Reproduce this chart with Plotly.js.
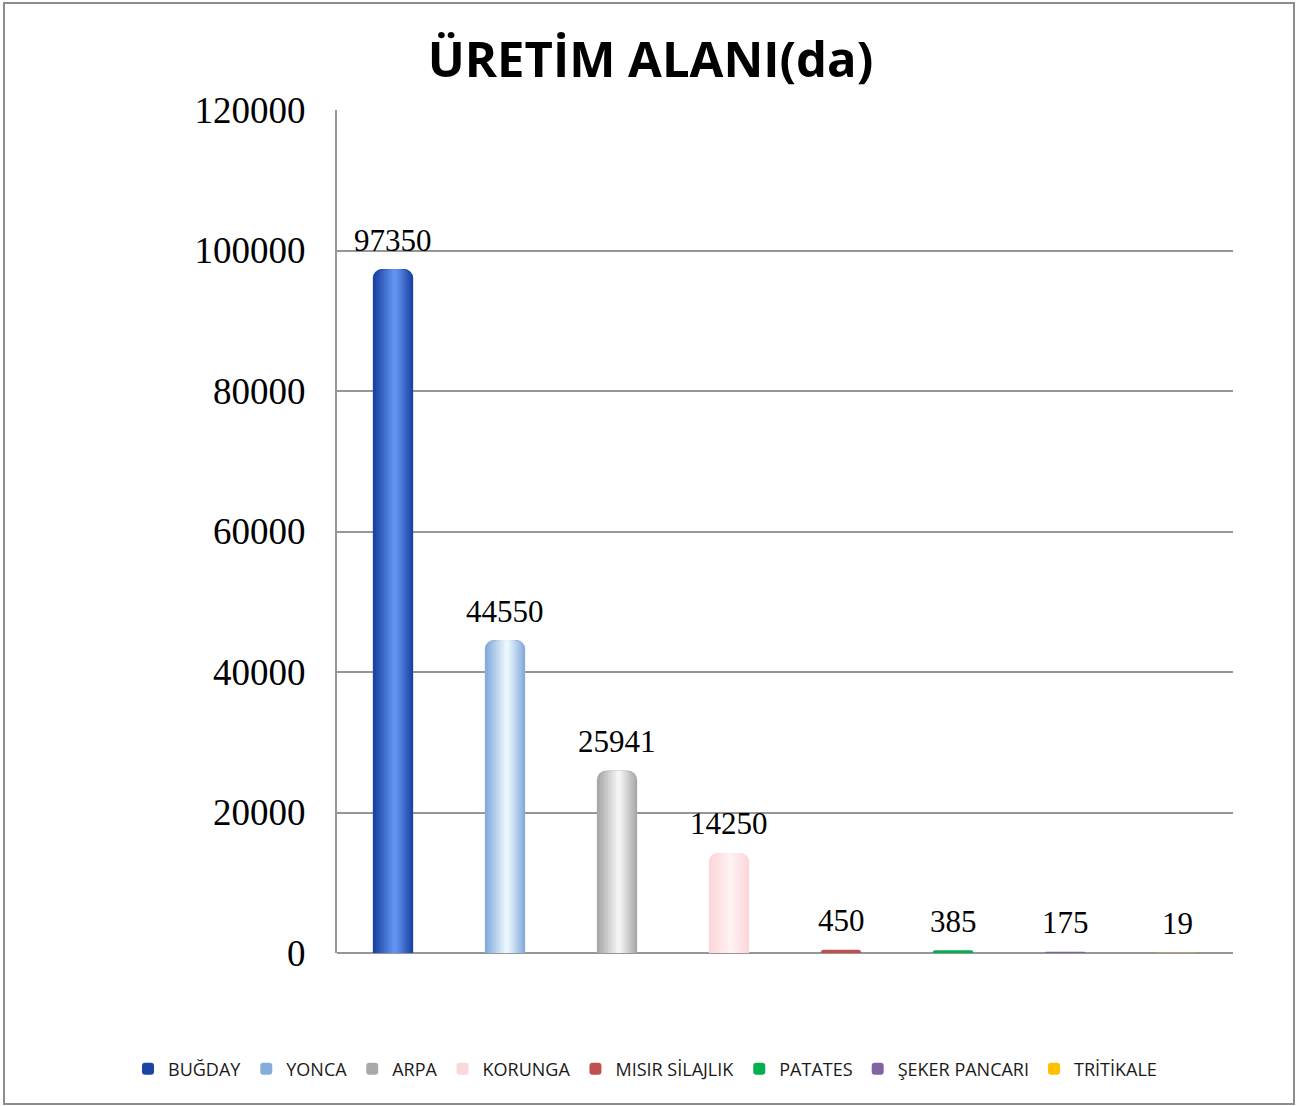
<!DOCTYPE html>
<html>
<head>
<meta charset="utf-8">
<script src="https://cdn.plot.ly/plotly-3.0.1.min.js"></script>
<style>
  html, body { margin: 0; padding: 0; background: #fff; }
  #wrap { position: relative; width: 1301px; height: 1106px; }
  #chart { width: 1301px; height: 1106px; }
  #frame { position: absolute; left: 3px; top: 2px; width: 1288px; height: 1099px;
           border: 2px solid #8c8c8c; pointer-events: none; }
</style>
</head>
<body>
<div id="wrap"><div id="chart"></div><div id="frame"></div></div>
<script>
// ---- data ----
const categories = ["BUĞDAY", "YONCA", "ARPA", "KORUNGA", "MISIR SİLAJLIK", "PATATES", "ŞEKER PANCARI", "TRİTİKALE"];
const values = [97350, 44550, 25941, 14250, 450, 385, 175, 19];
const yTicks = [0, 20000, 40000, 60000, 80000, 100000, 120000];

// ---- styles: [edge colour, highlight colour] per series ----
const edgeColors = ["#1a43a3", "#86acdc", "#a9a9a9", "#fbd6da", "#c0504d", "#00b050", "#8064a2", "#ffc000"];
const lightColors = ["#6393f2", "#eaf6fd", "#f4f4f4", "#fff1f2", "#c0504d", "#00b050", "#8064a2", "#ffc000"];

function hexToRgb(h){ h=h.replace('#',''); return [0,2,4].map(i=>parseInt(h.substr(i,2),16)); }
function mix(a,b,t){ const A=hexToRgb(a),B=hexToRgb(b);
  return 'rgb('+A.map((v,i)=>Math.round(v+(B[i]-v)*t)).join(',')+')'; }

const barW = 0.36;
const hiPos = 0.55; // highlight position across bar width
const traces = [];
categories.forEach((cat, i) => {
  const solid = edgeColors[i] === lightColors[i];
  traces.push({
    type: 'bar', name: cat, x: [cat], y: [values[i]],
    width: barW, offset: -barW/2,
    marker: { color: edgeColors[i], opacity: 1, line: { width: 0 }, cornerradius: 9 },
    hoverinfo: 'skip', showlegend: true, legendgroup: cat
  });
  if (!solid) {
    const steps = 7;
    for (let s = 1; s <= steps; s++) {
      const frac = 1 - s / (steps + 1);
      const w = barW * frac;
      const centre = -barW/2 + barW * hiPos + (0.5 - hiPos) * w * 0.9;
      traces.push({
        type: 'bar', name: cat, x: [cat], y: [values[i]],
        width: w, offset: centre - w/2,
        marker: { color: mix(edgeColors[i], lightColors[i], s / steps), opacity: 1, line: { width: 0 }, cornerradius: Math.max(2, 9 * frac) },
        hoverinfo: 'skip', showlegend: false, legendgroup: cat
      });
    }
  }
});

// data labels above each bar
const annotations = categories.map((cat, i) => ({
  x: cat, y: values[i], xref: 'x', yref: 'y',
  text: String(values[i]), showarrow: false,
  xanchor: 'center', yanchor: 'middle', yshift: 29,
  font: { family: 'Liberation Serif, Times New Roman, serif', size: 31, color: '#000' }
}));

const layout = {
  width: 1301, height: 1106,
  paper_bgcolor: '#fff', plot_bgcolor: '#fff',
  margin: { l: 337, r: 68, t: 110, b: 153 },
  barmode: 'overlay',
  showlegend: true,
  annotations: annotations,
  title: {
    text: 'ÜRETİM ALANI(da)',
    font: { family: 'Open Sans, Noto Sans, sans-serif', size: 49, weight: 'bold', color: '#000' },
    x: 0.5, xanchor: 'center', xref: 'container', y: 0.946, yanchor: 'middle', yref: 'container'
  },
  xaxis: {
    type: 'category', categoryorder: 'array', categoryarray: categories,
    range: [-0.5, categories.length - 0.5],
    showticklabels: false, showgrid: false, zeroline: false, showline: false, ticks: ''
  },
  yaxis: {
    range: [0, 120000], tickvals: yTicks, ticktext: yTicks.map(String),
    showgrid: true, gridcolor: '#969696', gridwidth: 2,
    zeroline: true, zerolinecolor: '#969696', zerolinewidth: 2,
    showline: true, linecolor: '#969696', linewidth: 2,
    ticks: '', ticklabelstandoff: 22,
    tickfont: { family: 'Liberation Serif, Times New Roman, serif', size: 37, color: '#000' }
  },
  legend: {
    orientation: 'h', xref: 'paper', yref: 'paper',
    x: (128 - 337) / 896, xanchor: 'left', y: (953 - 1069) / 843, yanchor: 'middle',
    font: { family: 'Open Sans, Noto Sans, sans-serif', size: 18, color: '#1a1a1a' },
    itemwidth: 30,
    traceorder: 'normal', itemclick: false, itemdoubleclick: false
  }
};

Plotly.newPlot('chart', traces, layout, { staticPlot: true, displayModeBar: false });
</script>
</body>
</html>
